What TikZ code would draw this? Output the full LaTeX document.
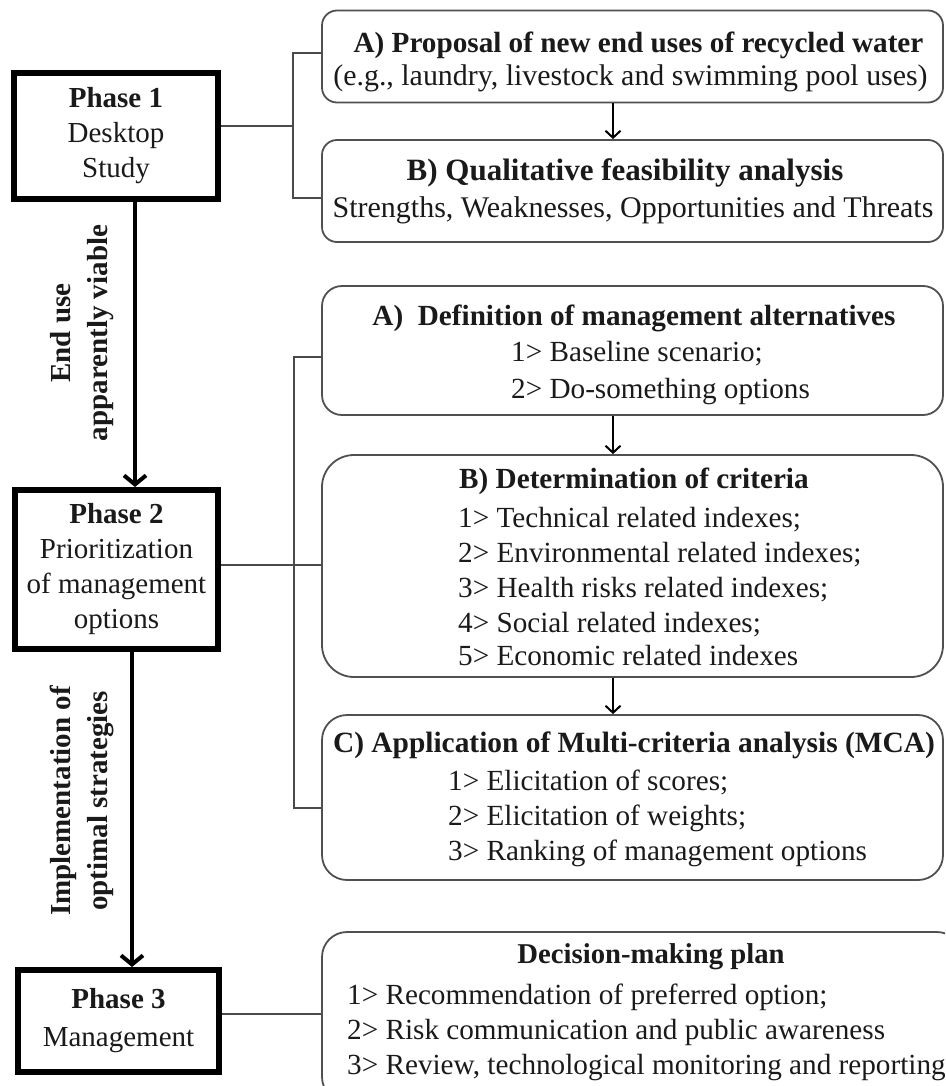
\documentclass[tikz,border=0pt]{standalone}
\usepackage{fontspec}
\setmainfont{Liberation Serif}
\usetikzlibrary{arrows.meta,calc}
\definecolor{ink}{HTML}{1A1A1A}
\definecolor{boxline}{HTML}{505050}
\definecolor{conline}{HTML}{4A4A4A}
\tikzset{
  phase/.style={draw=black, line width=6pt, inner sep=0pt, align=center, text=ink,
                font=\fontsize{29}{35}\selectfont},
  rbox/.style={draw=boxline, line width=1.8pt, inner sep=0pt},
  ttl/.style={inner sep=0pt, text=ink, font=\fontsize{29.2}{34}\selectfont\bfseries, anchor=base},
  txt/.style={inner sep=0pt, text=ink, font=\fontsize{29.2}{34}\selectfont, anchor=base},
  lbl/.style={inner sep=0pt, text=ink, rotate=90, align=center, font=\fontsize{29}{37}\selectfont\bfseries},
  bigarrow/.style={draw=black, line width=4pt, -{Straight Barb[length=9pt,width=22pt]}},
  smallarrow/.style={draw=black, line width=2pt, -{Straight Barb[length=7pt,width=15pt]}},
  con/.style={draw=conline, line width=1.3pt}
}
\begin{document}
\begin{tikzpicture}[x=1pt,y=-1pt]
\useasboundingbox (0,0) rectangle (945,1086);
\clip (0,0) rectangle (945,1086);
\fill[white] (0,0) rectangle (945,1086);

% phase boxes
\node[phase, minimum width=204pt, minimum height=126pt] (p1) at (116,136)
  {\textbf{Phase 1}\\Desktop\\Study};
\node[phase, minimum width=203pt, minimum height=159pt] (p2) at (116.5,569.5)
  {\textbf{Phase 2}\\Prioritization\\of management\\options};
\node[phase, minimum width=201pt, minimum height=102pt, font=\fontsize{29}{38}\selectfont] (p3) at (118.5,1021)
  {\textbf{Phase 3}\\Management};

% right boxes
\node[rbox, rounded corners=15pt, minimum width=621pt, minimum height=92pt] (a1) at (632.5,56.5) {};
\node[rbox, rounded corners=15pt, minimum width=621pt, minimum height=102pt] (b1) at (632.5,191) {};
\node[rbox, rounded corners=20pt, minimum width=621pt, minimum height=129pt] (a2) at (632.5,350.5) {};
\node[rbox, rounded corners=32pt, minimum width=621pt, minimum height=222pt] (b2) at (632.5,566) {};
\node[rbox, rounded corners=25pt, minimum width=621pt, minimum height=165pt] (c2) at (632.5,797.5) {};
\node[rbox, rounded corners=25pt, minimum width=640pt, minimum height=170pt] (d3) at (642,1017) {};

% texts phase 1 boxes
\node[ttl, font=\fontsize{29.2}{34}\selectfont\bfseries] (a1t) at (638.5,53) {A) Proposal of new end uses of recycled water};
\node[txt, font=\fontsize{29.9}{34}\selectfont] (a1s) at (630.5,86) {(e.g., laundry, livestock and swimming pool uses)};
\node[ttl, font=\fontsize{31}{34}\selectfont\bfseries] (b1t) at (625,181) {B) Qualitative feasibility analysis};
\node[txt, font=\fontsize{30}{34}\selectfont] (b1s) at (633,218) {Strengths, Weaknesses, Opportunities and Threats};

% phase 2 boxes
\node[ttl] (a2t) at (634,325) {A)\ \ Definition of management alternatives};
\node[txt, anchor=base west] (a2l1) at (511,361) {1> Baseline scenario;};
\node[txt, anchor=base west] (a2l2) at (511,398) {2> Do-something options};

\node[ttl, anchor=base west] (b2t) at (459,488) {B) Determination of criteria};
\node[txt, anchor=base west] (b2l1) at (458,527) {1> Technical related indexes;};
\node[txt, anchor=base west] (b2l2) at (458,562) {2> Environmental related indexes;};
\node[txt, anchor=base west] (b2l3) at (458,597) {3> Health risks related indexes;};
\node[txt, anchor=base west] (b2l4) at (458,632) {4> Social related indexes;};
\node[txt, anchor=base west] (b2l5) at (458,665) {5> Economic related indexes};

\node[ttl, font=\fontsize{29.4}{34}\selectfont\bfseries] (c2t) at (634,752) {C) Application of Multi-criteria analysis (MCA)};
\node[txt, anchor=base west] (c2l1) at (448,790) {1> Elicitation of scores;};
\node[txt, anchor=base west] (c2l2) at (448,825) {2> Elicitation of weights;};
\node[txt, anchor=base west] (c2l3) at (448,860) {3> Ranking of management options};

% phase 3 box
\node[ttl, font=\fontsize{28.7}{34}\selectfont\bfseries] (d3t) at (651,963) {Decision-making plan};
\node[txt, anchor=base west] (d3l1) at (347,1004) {1> Recommendation of preferred option;};
\node[txt, anchor=base west] (d3l2) at (347,1039) {2> Risk communication and public awareness};
\node[txt, anchor=base west] (d3l3) at (347,1074) {3> Review, technological monitoring and reporting};

% rotated labels
\node[lbl] (l1) at (82,333) {End use\\apparently viable};
\node[lbl] (l2) at (82,801) {Implementation of\\optimal strategies};

% big arrows
\coordinate (ax1) at (135,0);
\coordinate (ax2) at (132,0);
\draw[bigarrow] (p1.south -| ax1) -- (p2.north -| ax1);
\draw[bigarrow] (p2.south -| ax2) -- (p3.north -| ax2);

% small arrows
\coordinate (sx) at (613,0);
\draw[smallarrow] (a1.south -| sx) -- (b1.north -| sx);
\draw[smallarrow] (a2.south -| sx) -- (b2.north -| sx);
\draw[smallarrow] (b2.south -| sx) -- (c2.north -| sx);

% connectors phase 1
\coordinate (j1) at (293,126);
\coordinate (k1a) at (293,53);
\coordinate (k1b) at (293,198);
\draw[con] (j1 -| p1.east) -- (j1);
\draw[con] (k1a -| a1.west) -- (k1a) -- (k1b) -- (k1b -| b1.west);

% connectors phase 2
\coordinate (j2) at (294,565);
\coordinate (k2a) at (294,357);
\coordinate (k2b) at (294,808);
\draw[con] (j2 -| p2.east) -- (j2 -| b2.west);
\draw[con] (k2a -| a2.west) -- (k2a) -- (k2b) -- (k2b -| c2.west);

% connector phase 3
\coordinate (j3) at (270,1014);
\draw[con] (j3 -| p3.east) -- (j3 -| d3.west);
\end{tikzpicture}
\end{document}
